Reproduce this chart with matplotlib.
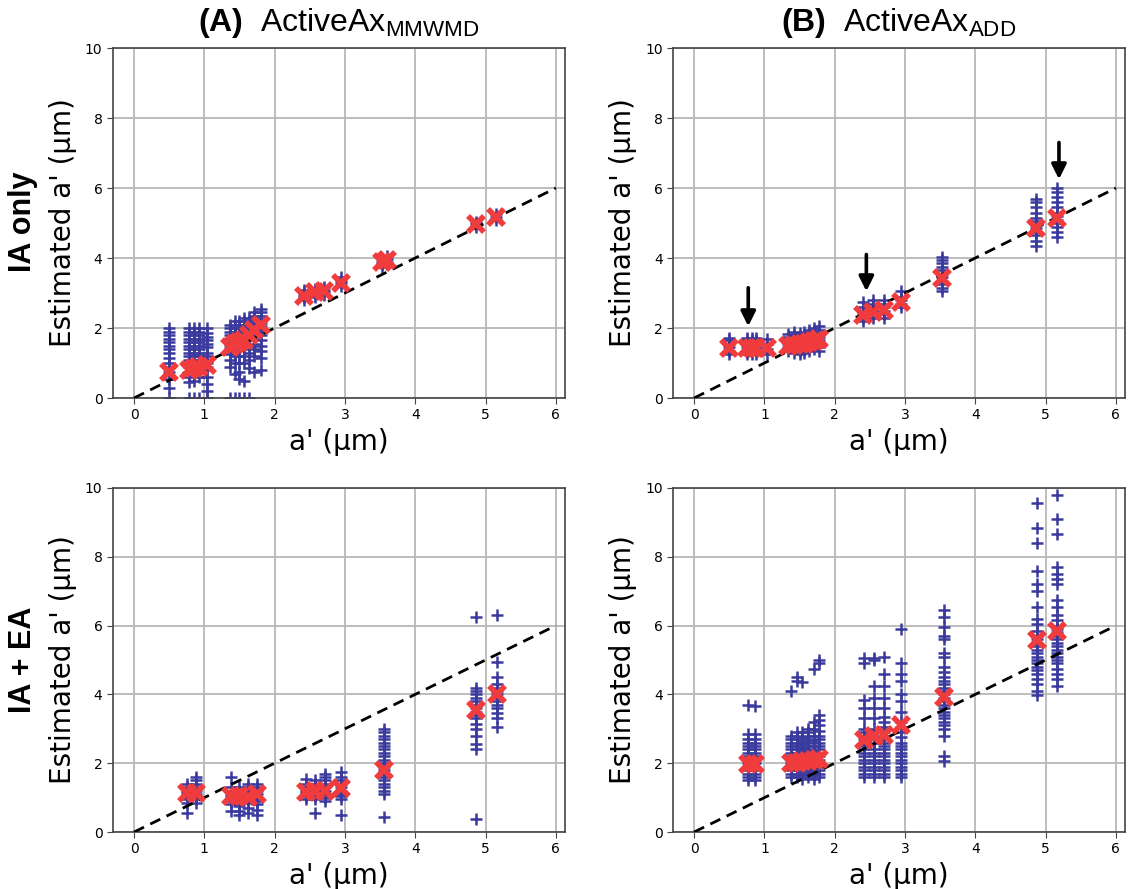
import numpy as np
import matplotlib
matplotlib.use("Agg")
import matplotlib.pyplot as plt

plt.rcParams['mathtext.fontset'] = 'custom'
plt.rcParams['mathtext.rm'] = 'Liberation Sans'
plt.rcParams['mathtext.bf'] = 'Liberation Sans:bold'

BLUE = '#3a3a9e'
RED = '#f03c3c'

# ---- (A) ActiveAx MMWMD, IA only ----
a_ia_x = [0.50, 0.78, 0.85, 0.92, 1.04, 1.36, 1.43, 1.50, 1.57, 1.64, 1.71, 1.80,
          2.42, 2.57, 2.70, 2.95, 3.53, 3.60, 4.87, 5.15]
a_ia_mean = [0.75, 0.80, 0.85, 0.88, 0.95, 1.45, 1.55, 1.60, 1.65, 1.80, 1.95, 2.10,
             2.92, 3.02, 3.05, 3.30, 3.88, 3.95, 4.97, 5.18]
a_ia_pts = [
    [0.0, 0.3, 0.55, 0.75, 0.9, 1.0, 1.15, 1.3, 1.4, 1.5, 1.6, 1.7, 1.8, 1.9, 2.0],
    [0.0, 0.45, 0.6, 0.75, 0.9, 1.0, 1.1, 1.2, 1.3, 1.4, 1.5, 1.6, 1.7, 1.8, 1.9, 2.0],
    [0.0, 0.5, 0.7, 0.85, 1.0, 1.1, 1.2, 1.3, 1.4, 1.5, 1.6, 1.7, 1.8, 1.9, 2.0],
    [0.0, 0.6, 0.8, 0.95, 1.1, 1.2, 1.3, 1.4, 1.5, 1.6, 1.7, 1.8, 1.9, 2.0],
    [0.0, 0.2, 0.4, 0.6, 0.8, 0.9, 1.0, 1.1, 1.2, 1.3, 1.45, 1.55, 1.65, 1.75, 1.85, 2.0],
    [0.0, 0.9, 1.1, 1.25, 1.4, 1.5, 1.6, 1.7, 1.8, 1.9, 2.0, 2.1],
    [0.0, 0.7, 1.0, 1.2, 1.35, 1.5, 1.6, 1.7, 1.8, 1.9, 2.0, 2.1, 2.2],
    [0.0, 0.55, 0.75, 1.0, 1.2, 1.4, 1.55, 1.7, 1.8, 1.9, 2.0, 2.1, 2.2],
    [0.0, 0.5, 1.0, 1.2, 1.4, 1.6, 1.7, 1.8, 1.9, 2.0, 2.1, 2.2, 2.3],
    [0.0, 0.85, 1.1, 1.3, 1.5, 1.65, 1.8, 1.9, 2.0, 2.1, 2.2, 2.3],
    [0.75, 1.2, 1.4, 1.55, 1.7, 1.85, 1.95, 2.05, 2.15, 2.25, 2.35, 2.45],
    [0.8, 1.15, 1.35, 1.5, 1.65, 1.8, 1.95, 2.05, 2.15, 2.25, 2.35, 2.45, 2.55],
    [2.8, 2.88, 2.95, 3.02, 3.1],
    [2.9, 2.98, 3.05, 3.12],
    [2.95, 3.03, 3.1, 3.18],
    [3.2, 3.28, 3.35, 3.45],
    [3.75, 3.83, 3.9, 3.98],
    [3.82, 3.9, 3.98, 4.05],
    [4.9, 4.97, 5.03],
    [5.1, 5.17, 5.25],
]

# ---- (B) ActiveAx ADD, IA only ----
b_ia_x = [0.50, 0.75, 0.82, 0.88, 1.03, 1.33, 1.42, 1.50, 1.57, 1.64, 1.71, 1.78,
          2.40, 2.55, 2.70, 2.95, 3.53, 4.87, 5.16]
b_ia_mean = [1.42, 1.43, 1.43, 1.43, 1.43, 1.50, 1.52, 1.55, 1.55, 1.60, 1.62, 1.68,
             2.38, 2.45, 2.52, 2.75, 3.43, 4.85, 5.14]
b_ia_pts = [
    [1.25, 1.35, 1.45, 1.55, 1.65, 1.72],
    [1.25, 1.35, 1.45, 1.55, 1.65, 1.72],
    [1.25, 1.35, 1.45, 1.55, 1.65, 1.72],
    [1.25, 1.35, 1.45, 1.55, 1.65, 1.72],
    [1.25, 1.4, 1.55, 1.7],
    [1.35, 1.45, 1.55, 1.65, 1.75, 1.82],
    [1.3, 1.4, 1.5, 1.6, 1.7, 1.8, 1.88],
    [1.25, 1.35, 1.45, 1.55, 1.65, 1.75, 1.85],
    [1.3, 1.4, 1.5, 1.6, 1.7, 1.8, 1.9],
    [1.35, 1.45, 1.55, 1.65, 1.75, 1.85, 1.95],
    [1.4, 1.5, 1.6, 1.7, 1.8, 1.9, 2.0],
    [1.35, 1.45, 1.55, 1.65, 1.75, 1.85, 1.95, 2.05],
    [2.2, 2.3, 2.4, 2.5, 2.6, 2.75],
    [2.3, 2.4, 2.5, 2.6, 2.7, 2.8],
    [2.3, 2.4, 2.5, 2.6, 2.7, 2.8],
    [2.6, 2.7, 2.8, 2.9, 3.05],
    [3.05, 3.15, 3.25, 3.35, 3.45, 3.55, 3.65, 3.75, 3.85, 3.95, 4.03],
    [4.35, 4.5, 4.65, 4.75, 4.85, 4.95, 5.05, 5.15, 5.3, 5.45, 5.6, 5.7],
    [4.6, 4.75, 4.9, 5.0, 5.1, 5.2, 5.3, 5.45, 5.6, 5.75, 5.9, 6.0],
]
# arrows pointing at columns: (x, y_start, y_tip)
b_ia_arrows = [(0.77, 3.15, 2.05), (2.45, 4.1, 3.05), (5.19, 7.3, 6.25)]

# ---- (A) ActiveAx MMWMD, IA + EA ----
a_iaea_x = [0.76, 0.88, 1.38, 1.50, 1.62, 1.75, 2.45, 2.58, 2.72, 2.95, 3.56, 4.87, 5.16]
a_iaea_mean = [1.12, 1.13, 1.05, 1.05, 1.02, 1.10, 1.15, 1.18, 1.18, 1.28, 1.80, 3.55, 4.00]
a_iaea_pts = [
    [0.55, 0.85, 0.95, 1.0, 1.05, 1.1, 1.15, 1.2, 1.3, 1.4],
    [0.85, 0.95, 1.0, 1.05, 1.1, 1.2, 1.3, 1.4, 1.5, 1.6],
    [0.6, 0.8, 0.9, 0.95, 1.0, 1.05, 1.1, 1.2, 1.3, 1.6],
    [0.5, 0.6, 0.75, 0.85, 0.95, 1.0, 1.05, 1.1, 1.2, 1.3],
    [0.55, 0.7, 0.85, 0.95, 1.0, 1.05, 1.1, 1.2, 1.3, 1.4],
    [0.5, 0.65, 0.8, 0.9, 0.95, 1.0, 1.1, 1.2, 1.3, 1.4],
    [0.95, 1.05, 1.1, 1.15, 1.2, 1.3, 1.4, 1.55],
    [0.55, 0.95, 1.05, 1.1, 1.15, 1.2, 1.3, 1.4, 1.5],
    [0.9, 1.0, 1.05, 1.1, 1.2, 1.3, 1.4, 1.5, 1.6, 1.7],
    [0.5, 0.95, 1.05, 1.1, 1.2, 1.3, 1.4, 1.5, 1.6, 1.75],
    [0.45, 1.1, 1.2, 1.3, 1.4, 1.5, 1.6, 1.7, 1.8, 1.9, 2.0, 2.1, 2.2, 2.3, 2.4,
     2.5, 2.6, 2.7, 2.8, 2.9, 3.0],
    [0.38, 2.4, 2.55, 2.8, 3.0, 3.15, 3.3, 3.4, 3.5, 3.6, 3.7, 3.8, 3.9, 4.0, 4.1,
     4.2, 6.25],
    [3.05, 3.3, 3.45, 3.6, 3.7, 3.8, 3.9, 4.0, 4.1, 4.2, 4.3, 4.5, 4.95, 6.3],
]

# ---- (B) ActiveAx ADD, IA + EA ----
b_iaea_x = [0.76, 0.86, 1.38, 1.46, 1.54, 1.62, 1.70, 1.78, 2.42, 2.56, 2.70, 2.95,
            3.55, 4.88, 5.16]
b_iaea_mean = [1.97, 1.97, 2.00, 2.02, 2.05, 2.05, 2.10, 2.12, 2.67, 2.80, 2.82, 3.10,
               3.92, 5.58, 5.85]
b_iaea_pts = [
    [1.5, 1.6, 1.7, 1.8, 1.9, 2.0, 2.1, 2.2, 2.3, 2.4, 2.5, 2.6, 2.7, 2.85, 3.7],
    [1.5, 1.6, 1.7, 1.8, 1.9, 2.0, 2.1, 2.2, 2.3, 2.4, 2.5, 2.6, 2.7, 2.85, 3.65],
    [1.6, 1.7, 1.8, 1.9, 2.0, 2.1, 2.2, 2.3, 2.4, 2.5, 2.6, 2.7, 2.8, 4.1],
    [1.6, 1.7, 1.8, 1.9, 2.0, 2.1, 2.2, 2.3, 2.4, 2.5, 2.6, 2.7, 2.8, 2.9, 4.4, 4.5],
    [1.55, 1.65, 1.75, 1.85, 1.95, 2.05, 2.15, 2.25, 2.35, 2.45, 2.55, 2.65, 2.75,
     2.9, 4.35],
    [1.6, 1.7, 1.8, 1.9, 2.0, 2.1, 2.2, 2.3, 2.4, 2.5, 2.6, 2.7, 2.8, 2.9, 3.0],
    [1.55, 1.65, 1.75, 1.85, 1.95, 2.05, 2.15, 2.25, 2.35, 2.5, 2.65, 2.8, 3.0, 3.2,
     4.75],
    [1.6, 1.7, 1.8, 1.9, 2.0, 2.1, 2.2, 2.3, 2.4, 2.5, 2.6, 2.7, 2.8, 2.95, 3.1, 3.25,
     3.4, 4.9, 5.0],
    [1.6, 1.7, 1.8, 1.9, 2.0, 2.1, 2.2, 2.3, 2.4, 2.5, 2.6, 2.7, 2.8, 2.9, 3.0, 3.3,
     3.6, 3.85, 4.9, 5.05],
    [1.6, 1.7, 1.8, 1.9, 2.0, 2.1, 2.2, 2.3, 2.4, 2.6, 2.8, 3.0, 3.3, 3.6, 3.9, 4.25,
     5.0, 5.05],
    [1.6, 1.7, 1.8, 1.9, 2.0, 2.1, 2.2, 2.3, 2.4, 2.5, 2.6, 2.75, 2.9, 3.05, 3.2, 3.35,
     3.6, 3.9, 4.25, 4.6, 5.1],
    [1.6, 1.7, 1.8, 1.9, 2.0, 2.1, 2.2, 2.3, 2.4, 2.5, 2.6, 2.75, 2.9, 3.05, 3.2, 3.5,
     3.8, 4.0, 4.4, 4.6, 4.9, 5.9],
    [2.05, 2.2, 2.8, 3.0, 3.1, 3.2, 3.3, 3.4, 3.5, 3.6, 3.7, 3.8, 3.9, 4.0, 4.1, 4.2,
     4.3, 4.4, 4.5, 4.65, 4.8, 5.1, 5.2, 5.6, 5.7, 5.95, 6.25, 6.45],
    [3.97, 4.1, 4.3, 4.45, 4.6, 4.7, 4.8, 4.9, 5.0, 5.1, 5.2, 5.3, 5.4, 5.5, 5.6, 5.7,
     5.85, 6.05, 6.2, 6.55, 7.0, 7.2, 7.6, 8.4, 8.85, 9.55],
    [4.25, 4.45, 4.6, 4.75, 4.9, 5.0, 5.1, 5.2, 5.3, 5.4, 5.5, 5.6, 5.7, 5.8, 5.9, 6.0,
     6.15, 6.3, 6.55, 6.75, 7.2, 7.35, 7.5, 7.7, 8.65, 9.1, 9.8],
]

x_ticks = [0, 1, 2, 3, 4, 5, 6]
y_ticks = [0, 2, 4, 6, 8, 10]


def draw_panel(ax, xs, means, pts, arrows=None):
    px = np.concatenate([[x] * len(p) for x, p in zip(xs, pts)])
    py = np.concatenate(pts)
    ax.grid(True, color='#b8b8b8', linewidth=1.3, zorder=0)
    ax.set_axisbelow(True)
    ax.scatter(px, py, marker='+', s=65, linewidths=1.8, color=BLUE, zorder=2)
    ax.plot([0, 6], [0, 6], linestyle='--', color='black', linewidth=2.0,
            dashes=(4, 2.5), zorder=3)
    ax.plot(xs, means, linestyle='none', marker='x', markersize=12,
            markeredgewidth=4, color=RED, zorder=4)
    if arrows:
        for x, y0, y1 in arrows:
            ax.annotate('', xy=(x, y1), xytext=(x, y0),
                        arrowprops=dict(arrowstyle='-|>', color='black', lw=2.6,
                                        mutation_scale=22, shrinkA=0, shrinkB=0),
                        zorder=5)
    ax.set_xlim(-0.3, 6.13)
    ax.set_ylim(0, 10)
    ax.set_xticks(x_ticks)
    ax.set_yticks(y_ticks)
    ax.tick_params(labelsize=10, length=4, color='#444444')
    for sp in ax.spines.values():
        sp.set_color('#444444')
        sp.set_linewidth(1.2)
    ax.set_xlabel("a' (\u03bcm)", fontsize=20, labelpad=4)
    ax.set_ylabel("Estimated a' (\u03bcm)", fontsize=20, labelpad=6)


fig = plt.figure(figsize=(11.34, 8.89), dpi=100)
ax_tl = fig.add_axes([0.0996, 0.5523, 0.3986, 0.3937])
ax_tr = fig.add_axes([0.5935, 0.5523, 0.3986, 0.3937])
ax_bl = fig.add_axes([0.0996, 0.0641, 0.3986, 0.3870])
ax_br = fig.add_axes([0.5935, 0.0641, 0.3986, 0.3870])

draw_panel(ax_tl, a_ia_x, a_ia_mean, a_ia_pts)
draw_panel(ax_tr, b_ia_x, b_ia_mean, b_ia_pts, arrows=b_ia_arrows)
draw_panel(ax_bl, a_iaea_x, a_iaea_mean, a_iaea_pts)
draw_panel(ax_br, b_iaea_x, b_iaea_mean, b_iaea_pts)

ax_tl.set_title(r'$\mathbf{(A)}$  ActiveAx$_{\mathrm{MMWMD}}$', fontsize=23,
                family='Liberation Sans', pad=12)
ax_tr.set_title(r'$\mathbf{(B)}$  ActiveAx$_{\mathrm{ADD}}$', fontsize=23,
                family='Liberation Sans', pad=12)

fig.text(0.02, 0.75, 'IA only', rotation=90, ha='center', va='center',
         fontsize=22, fontweight='bold', family='Liberation Sans')
fig.text(0.02, 0.258, 'IA + EA', rotation=90, ha='center', va='center',
         fontsize=22, fontweight='bold', family='Liberation Sans')

fig.savefig('out.png', dpi=100)
